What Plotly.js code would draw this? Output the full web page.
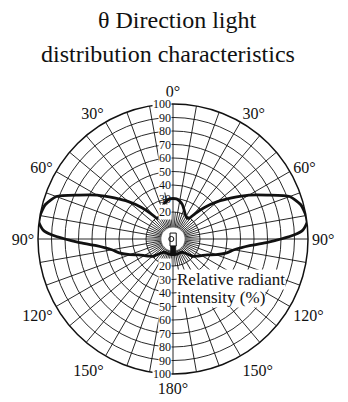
<!DOCTYPE html>
<html>
<head>
<meta charset="utf-8">
<script src="https://cdn.plot.ly/plotly-3.0.1.min.js"></script>
<style>
  html, body { margin:0; padding:0; background:#fff; }
  #chart { width:348px; height:402px; }
</style>
</head>
<body>
<div id="chart"></div>
<script>
// angle from the LED axis (deg) and relative radiant intensity (%)
const angles    = [0, 5, 10, 15, 20, 25, 30, 35, 38, 41, 45, 50, 55, 60, 65, 70, 75, 80, 83, 86, 88, 90, 92, 95, 100, 105, 110, 115, 120, 125, 130, 135, 140, 145, 150, 160, 170, 180];
const intensity = [30, 29.8, 28.5, 26.5, 23.5, 21, 19.3, 18.8, 19.5, 25, 33, 43, 53, 65, 77, 92, 98, 100, 100, 96.5, 90, 80, 70, 57, 46, 40.5, 34, 28, 24.5, 22, 20, 16.5, 13.5, 12, 11.5, 11.5, 11.5, 11.5];

const angleTicks = [0, 30, 60, 90, 120, 150, 180, 210, 240, 270, 300, 330];
const angleTickText = ["0°", "30°", "60°", "90°", "120°", "150°", "180°", "150°", "120°", "90°", "60°", "30°"];
const radialTicks = [20, 30, 40, 50, 60, 70, 80, 90, 100];

const serif = "Liberation Serif, Times New Roman, serif";
const ink = "#111";

// the pattern is symmetric: same readings on the left (-theta) and right (+theta)
const theta = [], r = [];
for (let i = angles.length - 1; i >= 0; i--) { theta.push(-angles[i]); r.push(intensity[i]); }
for (let i = 1; i < angles.length; i++) { theta.push(angles[i]); r.push(intensity[i]); }

// grid: spokes every 10 deg (labels every 30), short extra spokes every 5 deg near the centre
const gridVals = [], gridText = [];
for (let a = 0; a < 360; a += 10) {
  gridVals.push(a);
  const k = angleTicks.indexOf(a);
  gridText.push(k >= 0 ? angleTickText[k] : "");
}
const spokeR = [], spokeT = [];
for (let a = 5; a < 360; a += 10) {
  spokeR.push(8.5, 20, null);
  spokeT.push(a, a, null);
}

const traces = [
  { type:"scatterpolar", r:spokeR, theta:spokeT, mode:"lines",
    line:{color:ink, width:0.8}, hoverinfo:"skip", showlegend:false },
  { type:"scatterpolar", r:r, theta:theta, mode:"lines",
    line:{color:ink, width:2.8, shape:"spline", smoothing:0.6}, showlegend:false },
  // invisible cartesian overlay sharing the plot area, used for labels and the LED symbol
  { type:"scatter", x:[-100, 100], y:[-100, 100], mode:"markers",
    marker:{opacity:0}, hoverinfo:"skip", showlegend:false }
];

const labelFont = {family:serif, size:12, color:ink};
const annotations = [];
radialTicks.forEach(v => {
  annotations.push({ x:-0.5, y:v, xref:"x", yref:"y", text:String(v), showarrow:false,
    xanchor:"right", yanchor:"middle", font:labelFont, borderpad:0,
    bgcolor: v === 30 ? "rgba(0,0,0,0)" : "#fff" });
  annotations.push({ x:-0.5, y:-v, xref:"x", yref:"y", text:String(v), showarrow:false,
    xanchor:"right", yanchor:"middle", font:labelFont, borderpad:0, bgcolor:"#fff" });
});
const noteFont = {family:serif, size:17, color:ink};
annotations.push({ x:2, y:-29.8, xref:"x", yref:"y", text:"Relative radiant",
  showarrow:false, xanchor:"left", yanchor:"middle", font:noteFont, bgcolor:"#fff", borderpad:0 });
annotations.push({ x:2, y:-43.3, xref:"x", yref:"y", text:"intensity (%)",
  showarrow:false, xanchor:"left", yanchor:"middle", font:noteFont, bgcolor:"#fff", borderpad:0 });

const titleFont = {family:serif, size:24, color:ink};
annotations.push({ x:0.515, y:1.311, xref:"paper", yref:"paper", text:"θ Direction light",
  showarrow:false, xanchor:"center", yanchor:"middle", font:titleFont });
annotations.push({ x:0.481, y:1.185, xref:"paper", yref:"paper", text:"distribution characteristics",
  showarrow:false, xanchor:"center", yanchor:"middle", font:titleFont });

const shapes = [
  { type:"circle", xref:"x", yref:"y", x0:-8.6, x1:8.6, y0:-8.6, y1:8.6, fillcolor:"#fff", line:{width:0} },
  { type:"rect", xref:"x", yref:"y", x0:-2.2, x1:2.4, y0:-5.2, y1:4.4, fillcolor:"#fff", line:{color:ink, width:1} },
  { type:"circle", xref:"x", yref:"y", x0:-3.1, x1:0.6, y0:-1.9, y1:1.9, line:{color:ink, width:1} },
  { type:"rect", xref:"x", yref:"y", x0:-1.9, x1:2.1, y0:-11.9, y1:-5.2, fillcolor:ink, line:{color:ink, width:0.5} }
];

const layout = {
  width:348, height:402,
  margin:{l:38, r:40, t:104, b:28},
  paper_bgcolor:"#fff", plot_bgcolor:"rgba(0,0,0,0)",
  showlegend:false,
  font:{family:serif, color:ink},
  polar:{
    bgcolor:"#fff",
    radialaxis:{ range:[0, 100], tickvals:radialTicks, showticklabels:false, ticks:"",
      showline:false, gridcolor:ink, gridwidth:0.9 },
    angularaxis:{ rotation:90, direction:"clockwise", tickvals:gridVals, ticktext:gridText,
      ticks:"", showline:true, linecolor:ink, linewidth:1.5, gridcolor:ink, gridwidth:0.9,
      tickfont:{family:serif, size:16, color:ink} }
  },
  xaxis:{ range:[-100, 100], visible:false, fixedrange:true },
  yaxis:{ range:[-100, 100], visible:false, fixedrange:true },
  annotations:annotations,
  shapes:shapes
};

Plotly.newPlot("chart", traces, layout, {staticPlot:true, displayModeBar:false});
</script>
</body>
</html>
